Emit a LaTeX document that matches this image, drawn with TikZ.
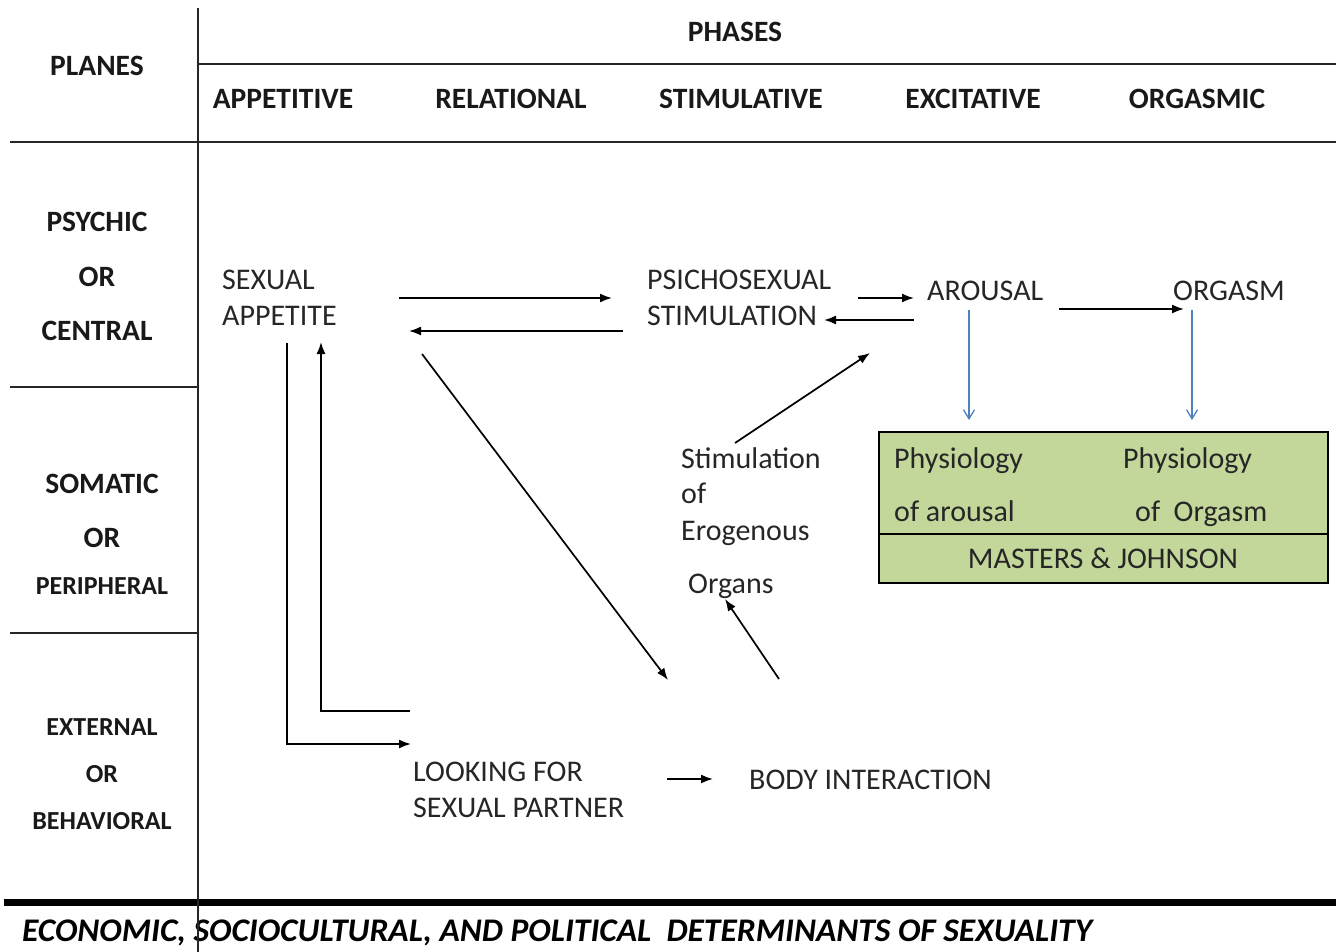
\documentclass[tikz,border=0pt]{standalone}
\usepackage{fontspec}
\setmainfont{Carlito}
\usetikzlibrary{arrows.meta}
\definecolor{boxgreen}{HTML}{C4D79B}
\definecolor{arrowblue}{HTML}{4F81BD}
\tikzset{
  grid/.style={line width=1.8pt, black!85},
  hdr/.style={font=\fontsize{29.5}{34}\selectfont\bfseries, anchor=base, inner sep=0pt, text=black!90},
  hdrs/.style={font=\fontsize{26}{30}\selectfont\bfseries, anchor=base, inner sep=0pt, text=black!90},
  lbl/.style={font=\fontsize{30}{36}\selectfont, anchor=base west, inner sep=0pt, text=black!85},
  arr/.style={line width=1.7pt, -{Latex[length=12pt,width=9pt]}},
  barr/.style={line width=1.3pt, arrowblue, -{Straight Barb[length=9pt,width=11pt]}},
}
\begin{document}
\begin{tikzpicture}[x=1pt,y=-1pt]
\useasboundingbox (0,0) rectangle (1336,952);
% grid
\draw[grid] (10,142) -- (1336,142);
\draw[grid] (198,64) -- (1336,64);
\draw[grid] (10,387) -- (198,387);
\draw[grid] (10,633) -- (198,633);
\draw[line width=7pt] (4,902) -- (1336,902);
% headers
\node[hdr] (planes) at (97,76) {PLANES};
\node[hdr] (phases) at (735,42) {PHASES};
\node[hdr] (ph1) at (283,109) {APPETITIVE};
\node[hdr] (ph2) at (511,109) {RELATIONAL};
\node[hdr] (ph3) at (741,109) {STIMULATIVE};
\node[hdr] (ph4) at (973,109) {EXCITATIVE};
\node[hdr] (ph5) at (1197,109) {ORGASMIC};
\node[hdr] (pl1a) at (97,232) {PSYCHIC};
\node[hdr] (pl1b) at (97,286) {OR};
\node[hdr] (pl1c) at (97,340) {CENTRAL};
\node[hdr] (pl2a) at (102,493) {SOMATIC};
\node[hdr] (pl2b) at (102,547) {OR};
\node[hdrs] (pl2c) at (102,594) {PERIPHERAL};
\node[hdrs] (pl3a) at (102,735) {EXTERNAL};
\node[hdrs] (pl3b) at (102,782) {OR};
\node[hdrs] (pl3c) at (102,829) {BEHAVIORAL};
% bottom text
\node[anchor=base west, inner sep=0pt] (bottom) at (22,941)
  {\resizebox{1070pt}{\height}{\fontsize{33}{40}\selectfont\bfseries\itshape ECONOMIC, SOCIOCULTURAL, AND POLITICAL\ \ DETERMINANTS OF SEXUALITY}};
\draw[grid] (198,8) -- (198,952);
% labels
\node[lbl] (sa1) at (222,289) {SEXUAL};
\node[lbl] (sa2) at (222,325) {APPETITE};
\node[lbl] (ps1) at (647,289) {PSICHOSEXUAL};
\node[lbl] (ps2) at (647,325) {STIMULATION};
\node[lbl] (aro) at (927,300) {AROUSAL};
\node[lbl] (org) at (1173,300) {ORGASM};
\node[lbl] (st1) at (681,468) {Stimulation};
\node[lbl] (st2) at (681,503) {of};
\node[lbl] (st3) at (681,540) {Erogenous};
\node[lbl] (st4) at (688,593) {Organs};
\node[lbl] (lf1) at (413,781) {LOOKING FOR};
\node[lbl] (lf2) at (413,817) {SEXUAL PARTNER};
\node[lbl] (bi) at (749,789) {BODY INTERACTION};
% green box
\draw[line width=1.6pt, fill=boxgreen] (879,432) rectangle (1328,583);
\draw[line width=1.6pt] (879,534) -- (1328,534);
\node[lbl] (pa1) at (894,468) {Physiology};
\node[lbl] (pa2) at (894,521) {of arousal};
\node[lbl] (po1) at (1123,468) {Physiology};
\node[lbl] (po2) at (1135,521) {of\ \ Orgasm};
\node[lbl, anchor=base] (mj) at (1103,568) {MASTERS \& JOHNSON};
% connector coordinates
\coordinate (a1s) at (399,298); \coordinate (a1e) at (612,298);
\coordinate (a2s) at (623,331); \coordinate (a2e) at (409,331);
\coordinate (a3s) at (858,298); \coordinate (a3e) at (914,298);
\coordinate (a4s) at (914,320); \coordinate (a4e) at (824,320);
\coordinate (a5s) at (1059,309); \coordinate (a5e) at (1184,309);
\coordinate (b1s) at (969,310); \coordinate (b1e) at (969,420);
\coordinate (b2s) at (1192,310); \coordinate (b2e) at (1192,420);
\coordinate (a8s) at (735,443); \coordinate (a8e) at (870,353);
\coordinate (a9s) at (779,679); \coordinate (a9e) at (725,599);
\coordinate (a10s) at (422,354); \coordinate (a10e) at (668,680);
\coordinate (a11s) at (287,343); \coordinate (a11e) at (411,744);
\coordinate (a12s) at (410,711); \coordinate (a12e) at (321,342);
\coordinate (a13s) at (667,779); \coordinate (a13e) at (713,779);
% arrows
\draw[arr] (a1s) -- (a1e);
\draw[arr] (a2s) -- (a2e);
\draw[arr] (a3s) -- (a3e);
\draw[arr] (a4s) -- (a4e);
\draw[arr] (a5s) -- (a5e);
\draw[barr] (b1s) -- (b1e);
\draw[barr] (b2s) -- (b2e);
\draw[arr] (a8s) -- (a8e);
\draw[arr] (a9s) -- (a9e);
\draw[arr] (a10s) -- (a10e);
\draw[arr] (a11s) |- (a11e);
\draw[arr] (a12s) -| (a12e);
\draw[arr] (a13s) -- (a13e);
\end{tikzpicture}
\end{document}
